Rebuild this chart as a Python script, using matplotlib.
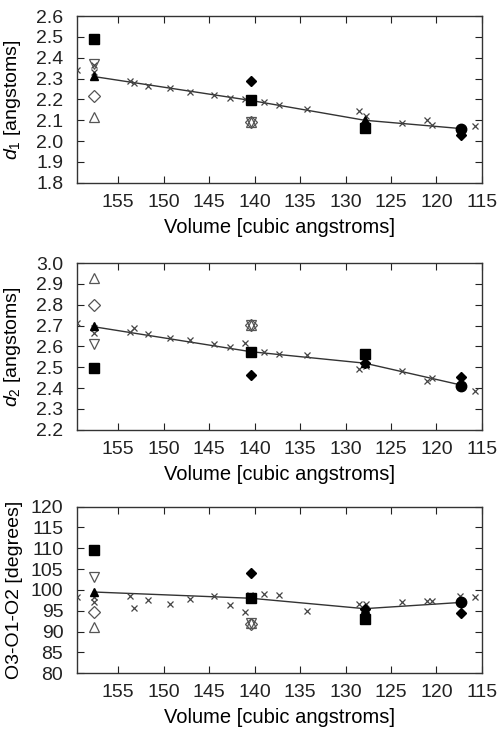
import matplotlib
matplotlib.use('Agg')
import matplotlib.pyplot as plt

plt.rcParams['font.family'] = ['Liberation Sans', 'DejaVu Sans']
plt.rcParams['mathtext.fontset'] = 'custom'
plt.rcParams['mathtext.it'] = 'Liberation Sans:italic'
plt.rcParams['mathtext.rm'] = 'Liberation Sans'

# volumes of the four structures
vol = [157.7, 140.4, 127.9, 117.3]

# scan of the volume (crosses)
scan_vol = [159.5, 157.7, 157.6, 153.7, 153.3, 151.7, 149.3, 147.1, 144.5, 142.7, 141.0,
            140.5, 139.0, 137.3, 134.2, 128.5, 127.8, 123.8, 121.0, 120.5, 117.4, 115.8]
scan_d1 = [2.341, 2.365, 2.33, 2.288, 2.277, 2.265, 2.253, 2.237, 2.221, 2.208, 2.20,
           2.19, 2.186, 2.173, 2.152, 2.144, 2.121, 2.088, 2.101, 2.077, 2.06, 2.073]
scan_d2 = [2.715, 2.665, 2.69, 2.67, 2.688, 2.662, 2.643, 2.63, 2.611, 2.598, 2.617,
           2.58, 2.574, 2.566, 2.558, 2.491, 2.507, 2.484, 2.435, 2.448, 2.44, 2.387]
scan_ang = [98.3, 98.2, 97.1, 98.6, 95.7, 97.5, 96.6, 97.9, 98.5, 96.3, 94.7,
            98.9, 99.1, 98.9, 95.0, 96.7, 96.6, 97.0, 97.4, 97.4, 98.5, 98.2]

# line through the structures
line_d1 = [2.31, 2.195, 2.10, 2.06]
line_d2 = [2.695, 2.575, 2.52, 2.415]
line_ang = [99.5, 98.0, 95.5, 97.0]

# filled markers
sq_vol = [157.7, 140.4, 127.9]
sq_d1 = [2.49, 2.195, 2.065]
sq_d2 = [2.495, 2.575, 2.565]
sq_ang = [109.5, 98.0, 93.0]

dia_vol = [140.4, 127.9, 117.3]
dia_d1 = [2.29, 2.08, 2.03]
dia_d2 = [2.465, 2.52, 2.455]
dia_ang = [104.0, 95.5, 94.5]

tri_vol = [157.7, 127.9]
tri_d1 = [2.31, 2.10]
tri_d2 = [2.70, 2.52]
tri_ang = [99.5, 95.5]

circ_vol = [117.3]
circ_d1 = [2.06]
circ_d2 = [2.41]
circ_ang = [97.0]

# open markers
otri_vol = [157.7, 140.4]
otri_d1 = [2.115, 2.09]
otri_d2 = [2.93, 2.705]
otri_ang = [91.0, 92.0]

odown_vol = [157.7, 140.4]
odown_d1 = [2.37, 2.09]
odown_d2 = [2.61, 2.705]
odown_ang = [103.0, 92.0]

odia_vol = [157.7, 140.4]
odia_d1 = [2.215, 2.09]
odia_d2 = [2.80, 2.705]
odia_ang = [94.8, 91.8]

panels = [
    (scan_d1, line_d1, sq_d1, dia_d1, tri_d1, circ_d1, otri_d1, odown_d1, odia_d1,
     '$d_1$ [angstoms]', (1.8, 2.6), [1.8 + 0.1 * i for i in range(9)], '%.1f'),
    (scan_d2, line_d2, sq_d2, dia_d2, tri_d2, circ_d2, otri_d2, odown_d2, odia_d2,
     '$d_2$ [angstoms]', (2.2, 3.0), [2.2 + 0.1 * i for i in range(9)], '%.1f'),
    (scan_ang, line_ang, sq_ang, dia_ang, tri_ang, circ_ang, otri_ang, odown_ang, odia_ang,
     'O3-O1-O2 [degrees]', (80, 120), list(range(80, 121, 5)), '%d'),
]

fig = plt.figure(figsize=(5.01, 7.31), dpi=100)
bottoms = [0.750, 0.412, 0.079]
grey = '#555555'

for p, b in zip(panels, bottoms):
    scan, line, sq, dia, tri, circ, otri, odown, odia, ylab, ylim, yt, fmt = p
    ax = fig.add_axes([0.154, b, 0.808, 0.228])
    ax.plot(vol, line, color='#333333', lw=1.0, zorder=2)
    ax.plot(scan_vol, scan, 'x', color='#444444', ms=5, mew=0.9, zorder=3)
    ax.plot(otri_vol, otri, '^', mfc='white', mec=grey, ms=7.5, mew=0.9, zorder=4)
    ax.plot(odown_vol, odown, 'v', mfc='none', mec=grey, ms=7.5, mew=0.9, zorder=4)
    ax.plot(odia_vol, odia, 'D', mfc='none', mec=grey, ms=6, mew=0.9, zorder=4)
    ax.plot(sq_vol, sq, 's', color='black', ms=7.5, zorder=5)
    ax.plot(dia_vol, dia, 'D', color='black', ms=5.5, zorder=5)
    ax.plot(tri_vol, tri, '^', color='black', ms=6, zorder=5)
    ax.plot(circ_vol, circ, 'o', color='black', ms=7.5, zorder=5)

    ax.set_xlim(159.5, 115)
    ax.set_ylim(*ylim)
    ax.set_xticks(range(155, 114, -5))
    ax.set_yticks(yt)
    ax.set_yticklabels([fmt % v for v in yt])
    ax.tick_params(direction='in', top=True, right=True, length=5, width=0.8,
                   labelsize=14, colors='#222222')
    ax.tick_params(axis='y', pad=10)
    ax.tick_params(axis='x', pad=8)
    for s in ax.spines.values():
        s.set_color('#333333')
        s.set_linewidth(1.0)
    ax.set_xlabel('Volume [cubic angstroms]', fontsize=14.5, labelpad=5)
    ax.set_ylabel(ylab, fontsize=14)
    ax.yaxis.set_label_coords(-0.135, 0.5)

fig.savefig('out.png', dpi=100)
